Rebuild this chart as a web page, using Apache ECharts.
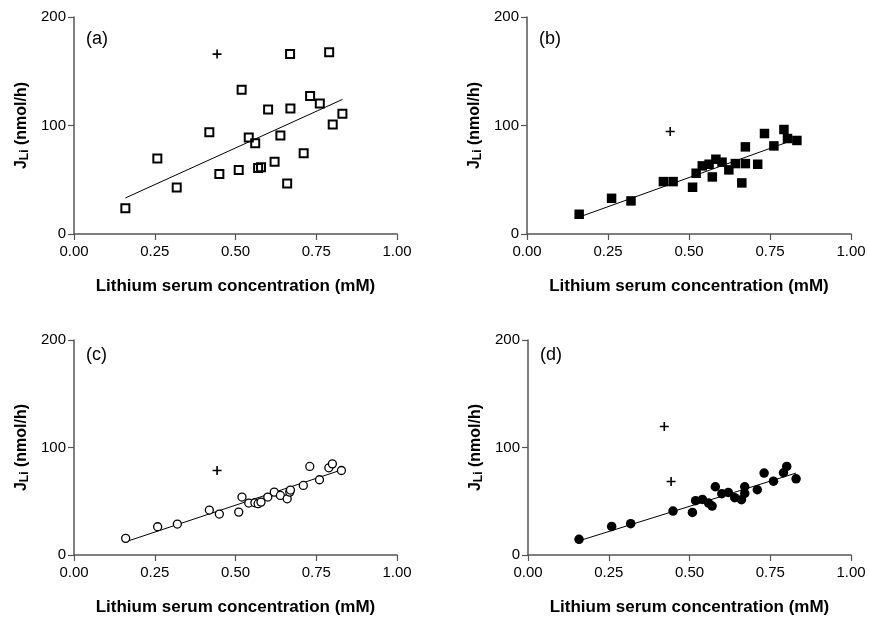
<!DOCTYPE html>
<html>
<head>
<meta charset="utf-8">
<script src="https://cdn.jsdelivr.net/npm/echarts@6/dist/echarts.min.js"></script>
<style>
  html, body { margin: 0; padding: 0; background: #fff; }
  #chart { width: 869px; height: 619px; }
</style>
</head>
<body>
<div id="chart"></div>
<script>
// lithium serum concentration (mM) of each subject, panels (a)-(d)
var concA = [0.159, 0.258, 0.318, 0.419, 0.450, 0.510, 0.519, 0.541, 0.561, 0.570, 0.579, 0.601,
  0.621, 0.639, 0.660, 0.669, 0.670, 0.711, 0.731, 0.761, 0.790, 0.801, 0.831];
var fluxA = [23.7, 69.5, 42.8, 93.8, 55.4, 59.1, 132.9, 88.9, 83.7, 60.9, 61.5, 114.8,
  66.5, 90.8, 46.5, 165.8, 115.7, 74.5, 127.1, 120.3, 167.4, 100.9, 110.8];

var concB = [0.161, 0.261, 0.321, 0.421, 0.451, 0.511, 0.522, 0.541, 0.562, 0.572, 0.583, 0.602,
  0.623, 0.643, 0.663, 0.674, 0.674, 0.712, 0.733, 0.762, 0.793, 0.804, 0.833];
var fluxB = [18.2, 32.9, 30.5, 48.3, 48.3, 43.1, 56.0, 62.8, 64.3, 52.6, 68.9, 66.2,
  59.1, 64.9, 47.1, 80.3, 64.9, 64.3, 92.6, 81.2, 96.3, 88.0, 86.2];

var concC = [0.160, 0.259, 0.320, 0.419, 0.450, 0.510, 0.520, 0.541, 0.560, 0.570, 0.579, 0.600,
  0.620, 0.639, 0.660, 0.668, 0.670, 0.710, 0.730, 0.760, 0.789, 0.800, 0.828];
var fluxC = [15.5, 26.3, 28.8, 41.8, 38.1, 39.9, 53.9, 48.3, 48.6, 47.7, 49.2, 53.9,
  58.5, 55.4, 52.3, 58.5, 60.4, 64.7, 82.4, 70.0, 81.1, 84.8, 78.6];

var concD = [0.158, 0.259, 0.318, 0.449, 0.509, 0.519, 0.540, 0.559, 0.570, 0.580, 0.600,
  0.620, 0.640, 0.661, 0.671, 0.671, 0.710, 0.731, 0.760, 0.791, 0.801, 0.830];
var fluxD = [14.6, 26.6, 29.1, 40.9, 39.6, 50.5, 51.7, 48.3, 45.5, 63.5, 57.0,
  58.2, 53.3, 51.4, 63.5, 57.3, 60.7, 76.2, 68.7, 76.5, 82.4, 70.9];

// excluded outliers (+)
var outA = [[0.443, 165.8]];
var outB = [[0.442, 94.5]];
var outC = [[0.443, 78.6]];
var outD = [[0.422, 119.5], [0.443, 68.4]];

// regression line end points
var fitA = [[0.159, 33.2], [0.831, 124.0]];
var fitB = [[0.161, 15.6], [0.833, 87.8]];
var fitC = [[0.160, 12.3], [0.828, 79.1]];
var fitD = [[0.158, 13.2], [0.830, 76.2]];

var panelNames = ['(a)', '(b)', '(c)', '(d)'];
var xTicks = [0, 0.25, 0.5, 0.75, 1];
var yTicks = [0, 100, 200];

function zip(xs, ys) {
  var out = [];
  for (var i = 0; i < xs.length; i++) out.push([xs[i], ys[i]]);
  return out;
}

var FONT = 'Liberation Sans, Arial, sans-serif';
var AXIS_COLOR = '#555';
var PLUS = 'path://M4.1,0h1.8v4.1h4.1v1.8h-4.1v4.1h-1.8v-4.1h-4.1v-1.8h4.1z';

var grids = [
  {left: 74, top: 17, width: 323, height: 217},
  {left: 527, top: 17, width: 324, height: 217},
  {left: 74, top: 340, width: 323, height: 215},
  {left: 528, top: 340, width: 323, height: 215}
];

var xAxes = [], yAxes = [], titles = [];
for (var g = 0; g < 4; g++) {
  xAxes.push({
    gridIndex: g, type: 'value', min: xTicks[0], max: xTicks[xTicks.length - 1], interval: 0.25,
    name: 'Lithium serum concentration (mM)', nameLocation: 'middle', nameGap: 44,
    nameTextStyle: {fontFamily: FONT, fontSize: 17, fontWeight: 'bold', color: '#000'},
    axisLine: {show: true, lineStyle: {color: AXIS_COLOR, width: 1.5}},
    axisTick: {show: true, length: 6, lineStyle: {color: AXIS_COLOR, width: 1.2}},
    axisLabel: {fontFamily: FONT, fontSize: 15, color: '#000', margin: 10,
      formatter: function (v) { return v.toFixed(2); }},
    splitLine: {show: false}
  });
  yAxes.push({
    gridIndex: g, type: 'value', min: yTicks[0], max: yTicks[yTicks.length - 1], interval: 100,
    name: '{j|J}{sub|Li}{j| (nmol/h)}', nameLocation: 'middle', nameGap: 43, nameRotate: 90,
    nameTextStyle: {
      fontFamily: FONT, color: '#000',
      rich: {
        j: {fontFamily: FONT, fontSize: 16, fontWeight: 'bold', color: '#000'},
        sub: {fontFamily: FONT, fontSize: 12, fontWeight: 'bold', color: '#000', verticalAlign: 'bottom', padding: [6, 0, 0, 0]}
      }
    },
    axisLine: {show: true, lineStyle: {color: AXIS_COLOR, width: 1.5}},
    axisTick: {show: true, length: 6, lineStyle: {color: AXIS_COLOR, width: 1.2}},
    axisLabel: {fontFamily: FONT, fontSize: 15, color: '#000', margin: 8},
    splitLine: {show: false}
  });
  titles.push({
    text: panelNames[g],
    left: grids[g].left + 7,
    top: grids[g].top + (g < 2 ? 8 : 1),
    textStyle: {fontFamily: FONT, fontSize: 18, fontWeight: 'normal', color: '#000'}
  });
}

function fitSeries(idx, data) {
  return {type: 'line', xAxisIndex: idx, yAxisIndex: idx, data: data, symbol: 'none',
    lineStyle: {color: '#000', width: 1}, z: 2, silent: true};
}
function outSeries(idx, data) {
  return {type: 'scatter', xAxisIndex: idx, yAxisIndex: idx, data: data, symbol: PLUS,
    symbolSize: 9, itemStyle: {color: '#000', opacity: 1}, z: 3};
}

var series = [
  fitSeries(0, fitA),
  {type: 'scatter', xAxisIndex: 0, yAxisIndex: 0, data: zip(concA, fluxA), symbol: 'rect', symbolSize: 8,
    itemStyle: {color: 'rgba(0,0,0,0)', borderColor: '#000', borderWidth: 2, opacity: 1}, z: 3},
  outSeries(0, outA),
  fitSeries(1, fitB),
  {type: 'scatter', xAxisIndex: 1, yAxisIndex: 1, data: zip(concB, fluxB), symbol: 'rect', symbolSize: 9.5,
    itemStyle: {color: '#000', opacity: 1}, z: 3},
  outSeries(1, outB),
  fitSeries(2, fitC),
  {type: 'scatter', xAxisIndex: 2, yAxisIndex: 2, data: zip(concC, fluxC), symbol: 'circle', symbolSize: 8,
    itemStyle: {color: '#fff', borderColor: '#000', borderWidth: 1.3, opacity: 1}, z: 3},
  outSeries(2, outC),
  fitSeries(3, fitD),
  {type: 'scatter', xAxisIndex: 3, yAxisIndex: 3, data: zip(concD, fluxD), symbol: 'circle', symbolSize: 9.5,
    itemStyle: {color: '#000', opacity: 1}, z: 3},
  outSeries(3, outD)
];

var chart = echarts.init(document.getElementById('chart'), null, {renderer: 'canvas'});
chart.setOption({
  backgroundColor: '#fff',
  animation: false,
  title: titles,
  grid: grids,
  xAxis: xAxes,
  yAxis: yAxes,
  series: series
});
</script>
</body>
</html>
